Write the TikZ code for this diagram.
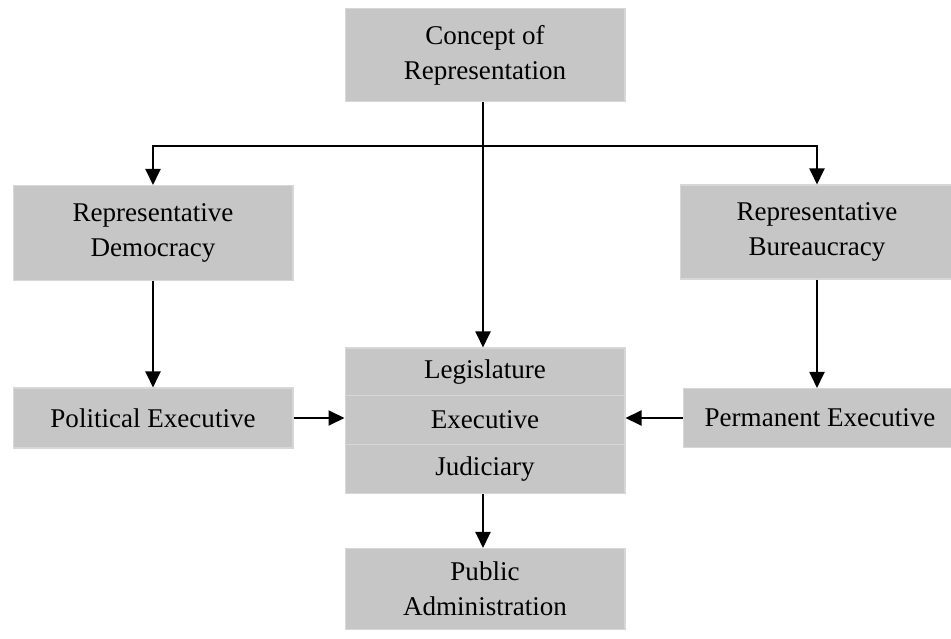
\documentclass[tikz,border=0pt]{standalone}
\usepackage{fontspec}
\setmainfont{Liberation Serif}
\usetikzlibrary{arrows.meta}
\definecolor{boxgray}{RGB}{198,198,198}
\definecolor{edgegray}{RGB}{215,215,215}
\tikzset{
  box/.style={fill=boxgray, draw=edgegray, line width=0.6pt, align=center,
    inner sep=0pt, font=\fontsize{15.4}{20}\selectfont},
  arrow/.style={draw=black, line width=1.1pt,
    -{Triangle[length=0.32cm,width=0.3cm]}}
}
\begin{document}
\begin{tikzpicture}[x=0.02cm,y=-0.02cm]
  \useasboundingbox (0,0) rectangle (951,639);
  \node[box, minimum width=5.6cm, minimum height=1.86cm] (concept) at (485,55) {Concept of\\Representation};
  \node[box, minimum width=5.6cm, minimum height=1.9cm] (repdem) at (153,233) {Representative\\Democracy};
  \node[box, minimum width=5.48cm, minimum height=1.88cm] (repbur) at (817,232) {Representative\\Bureaucracy};
  \node[box, minimum width=5.6cm, minimum height=1.2cm] (polexec) at (153,418) {Political Executive};
  \node[box, minimum width=5.48cm, minimum height=1.18cm] (permexec) at (820,418) {Permanent Executive};
  \node[box, minimum width=5.6cm, minimum height=0.96cm] (legis) at (485,372) {Legislature};
  \node[box, minimum width=5.6cm, minimum height=0.98cm] (exec) at (485,420) {Executive};
  \node[box, minimum width=5.6cm, minimum height=0.98cm] (judic) at (485,469) {Judiciary};
  \node[box, minimum width=5.6cm, minimum height=1.62cm] (pubadmin) at (485,589) {Public\\Administration};
  % connectors
  \coordinate (split) at (483,146);
  \draw[arrow] (concept.south -| split) -- (legis.north -| split);
  \draw[arrow] (split) -| (repdem.north);
  \draw[arrow] (split) -| (repbur.north);
  \draw[arrow] (repdem) -- (polexec);
  \draw[arrow] (repbur) -- (permexec.north -| repbur);
  \draw[arrow] (polexec.east) -- (polexec.east -| exec.west);
  \draw[arrow] (permexec.west) -- (permexec.west -| exec.east);
  \draw[arrow] (judic.south -| split) -- (pubadmin.north -| split);
\end{tikzpicture}
\end{document}
